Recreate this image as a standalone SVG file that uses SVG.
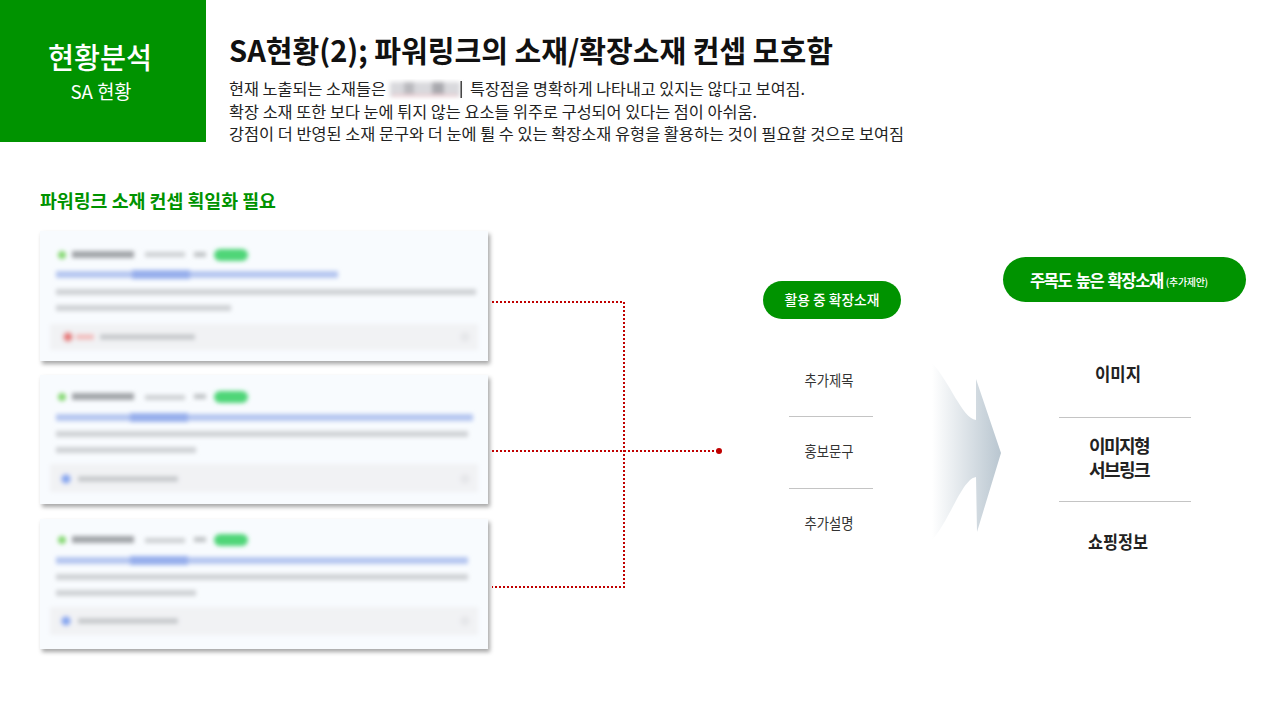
<svg xmlns="http://www.w3.org/2000/svg" width="1280" height="720" viewBox="0 0 1280 720">
<style>
  .kr { font-family: "Noto Sans CJK KR", "Noto Sans", sans-serif; }
  .title { font-size: 30px; font-weight: 700; fill: #111; }
  .body { font-size: 15.5px; font-weight: 400; fill: #222; }
  .sub { font-size: 18px; font-weight: 700; fill: #009300; }
  .pilltxt { fill: #fff; }
  .lst { font-size: 15px; fill: #333; text-anchor: middle; }
  .rlst { font-size: 18px; font-weight: 700; fill: #222; text-anchor: middle; }
  .sep { stroke: #c4c4c4; stroke-width: 1; }
  .conn { fill: none; stroke: #c00000; stroke-width: 2; stroke-dasharray: 2 2; }
  .card { fill: #f8fbfe; }
</style>
<defs>
  <filter id="shadow" x="-5%" y="-10%" width="115%" height="125%">
    <feDropShadow dx="2" dy="3" stdDeviation="2" flood-color="#000" flood-opacity="0.35"/>
  </filter>
  <filter id="blur" x="-5%" y="-20%" width="110%" height="140%">
    <feGaussianBlur stdDeviation="2"/>
  </filter>
  <linearGradient id="arrowGrad" x1="0" y1="0" x2="1" y2="0">
    <stop offset="0" stop-color="#ffffff"/>
    <stop offset="1" stop-color="#b9c6d0"/>
  </linearGradient>
</defs>
<rect width="1280" height="720" fill="#fff"/>

<g id="header-box">
  <rect x="0" y="0" width="206" height="142" fill="#009300"/>
  <text class="kr" x="100" y="69" font-size="29" font-weight="500" fill="#fff" text-anchor="middle" textLength="104" lengthAdjust="spacingAndGlyphs">현황분석</text>
  <text class="kr" x="101" y="99" font-size="19" font-weight="400" fill="#fff" text-anchor="middle" textLength="61" lengthAdjust="spacingAndGlyphs">SA 현황</text>
</g>

<g id="title">
  <text class="kr title" x="229" y="62" textLength="604" lengthAdjust="spacingAndGlyphs">SA현황(2); 파워링크의 소재/확장소재  컨셉 모호함</text>
  <text class="kr body" x="229" y="95" textLength="157" lengthAdjust="spacingAndGlyphs">현재 노출되는 소재들은</text>
  <g filter="url(#blur)">
    <rect x="390" y="82" width="70" height="15" fill="#d9d9dd"/>
    <rect x="404" y="82" width="10" height="15" fill="#b9b9be"/>
    <rect x="432" y="82" width="12" height="15" fill="#a9a9ae"/>
    <rect x="392" y="94" width="66" height="3" fill="#e8cfd4"/>
  </g>
  <rect x="460.5" y="81" width="1.4" height="17" fill="#333"/>
  <text class="kr body" x="470" y="95" textLength="335" lengthAdjust="spacingAndGlyphs">특장점을 명확하게 나타내고 있지는 않다고 보여짐.</text>
  <text class="kr body" x="229" y="117.5" textLength="528" lengthAdjust="spacingAndGlyphs">확장 소재 또한 보다 눈에 튀지 않는 요소들 위주로 구성되어 있다는 점이 아쉬움.</text>
  <text class="kr body" x="229" y="140" textLength="675" lengthAdjust="spacingAndGlyphs">강점이 더 반영된 소재 문구와 더 눈에 튈 수 있는 확장소재 유형을 활용하는 것이 필요할 것으로 보여짐</text>
</g>

<g id="subtitle">
  <text class="kr sub" x="40" y="208" textLength="236" lengthAdjust="spacingAndGlyphs">파워링크 소재 컨셉 획일화 필요</text>
</g>

<g id="card1">
  <rect class="card" x="40" y="231" width="448" height="130" filter="url(#shadow)"/>
  <g filter="url(#blur)">
    <circle cx="62" cy="255" r="4" fill="#86d873"/>
    <rect x="72" y="251" width="62" height="7" fill="#a2a5a9"/>
    <rect x="145" y="252" width="40" height="5" fill="#cdd0d3"/>
    <rect x="194" y="252" width="12" height="5" fill="#bfc2c5"/>
    <rect x="214" y="249" width="34" height="12" rx="6" fill="#4fd678"/>
    <rect x="56" y="271" width="282" height="7" fill="#b5c6f0"/>
    <rect x="132" y="270" width="58" height="9" fill="#97afec"/>
    <rect x="56" y="289" width="420" height="6" fill="#cfd2d5"/>
    <rect x="56" y="305" width="175" height="6" fill="#cfd2d5"/>
    <rect x="50" y="324" width="428" height="26" fill="#f1f2f4"/>
    <circle cx="68" cy="337" r="5" fill="#e78080"/>
    <rect x="76" y="334" width="18" height="6" fill="#f2c0c0"/>
    <rect x="100" y="334" width="95" height="6" fill="#c8cbce"/>
    <circle cx="465" cy="337" r="5" fill="#e6e7ea"/>
  </g>
</g>

<g id="card2">
  <rect class="card" x="40" y="375" width="448" height="129" filter="url(#shadow)"/>
  <g filter="url(#blur)">
    <circle cx="62" cy="397" r="4" fill="#86d873"/>
    <rect x="72" y="393" width="62" height="7" fill="#a2a5a9"/>
    <rect x="145" y="395" width="40" height="5" fill="#cdd0d3"/>
    <rect x="194" y="394" width="12" height="5" fill="#bfc2c5"/>
    <rect x="214" y="391" width="34" height="12" rx="6" fill="#4fd678"/>
    <rect x="56" y="414" width="417" height="7" fill="#b5c6f0"/>
    <rect x="130" y="413" width="58" height="9" fill="#97afec"/>
    <rect x="56" y="431" width="412" height="6" fill="#cfd2d5"/>
    <rect x="56" y="447" width="140" height="6" fill="#cfd2d5"/>
    <rect x="50" y="464" width="428" height="28" fill="#f1f2f4"/>
    <circle cx="66" cy="479" r="5" fill="#8aaaf0"/>
    <rect x="78" y="476" width="100" height="6" fill="#c8cbce"/>
    <circle cx="465" cy="479" r="5" fill="#e6e7ea"/>
  </g>
</g>

<g id="card3">
  <rect class="card" x="40" y="519" width="448" height="130" filter="url(#shadow)"/>
  <g filter="url(#blur)">
    <circle cx="62" cy="540" r="4" fill="#86d873"/>
    <rect x="72" y="536" width="62" height="7" fill="#a2a5a9"/>
    <rect x="145" y="538" width="40" height="5" fill="#cdd0d3"/>
    <rect x="194" y="537" width="12" height="5" fill="#bfc2c5"/>
    <rect x="214" y="534" width="34" height="12" rx="6" fill="#4fd678"/>
    <rect x="56" y="557" width="412" height="7" fill="#b5c6f0"/>
    <rect x="130" y="556" width="58" height="9" fill="#97afec"/>
    <rect x="56" y="574" width="412" height="6" fill="#cfd2d5"/>
    <rect x="56" y="590" width="140" height="6" fill="#cfd2d5"/>
    <rect x="50" y="607" width="428" height="28" fill="#f1f2f4"/>
    <circle cx="66" cy="621" r="5" fill="#8aaaf0"/>
    <rect x="78" y="618" width="100" height="6" fill="#c8cbce"/>
    <circle cx="465" cy="621" r="5" fill="#e6e7ea"/>
  </g>
</g>

<g id="connectors">
  <path class="conn" d="M492,302 H624 V587 H492"/>
  <path class="conn" d="M492,451 H718"/>
  <circle cx="719" cy="451" r="3" fill="#c00000"/>
</g>

<g id="current-ext">
  <rect x="763" y="281" width="138" height="38" rx="19" fill="#009300"/>
  <text class="kr pilltxt" x="832" y="305" font-size="14" font-weight="500" text-anchor="middle" textLength="95" lengthAdjust="spacingAndGlyphs">활용 중 확장소재</text>
  <text class="kr lst" x="829" y="386" textLength="49" lengthAdjust="spacingAndGlyphs">추가제목</text>
  <line class="sep" x1="789" y1="416.5" x2="873" y2="416.5"/>
  <text class="kr lst" x="829" y="457" textLength="49" lengthAdjust="spacingAndGlyphs">홍보문구</text>
  <line class="sep" x1="789" y1="488.5" x2="873" y2="488.5"/>
  <text class="kr lst" x="829" y="529" textLength="49" lengthAdjust="spacingAndGlyphs">추가설명</text>
</g>

<g id="arrow">
  <path d="M932,363 C950,382 962,418 976,420 L976,379 L1001,453 L977,532 L976,477 C962,479 950,520 932,540 Z" fill="url(#arrowGrad)"/>
</g>

<g id="proposed-ext">
  <rect x="1003" y="257" width="243" height="45" rx="22.5" fill="#009300"/>
  <text class="kr pilltxt" x="1030" y="287" font-size="16.5" font-weight="700" letter-spacing="-1.4" word-spacing="2">주목도 높은 확장소재<tspan font-size="10" font-weight="500" letter-spacing="-0.3" dx="3" dy="-1">(추가제안)</tspan></text>
  <text class="kr rlst" x="1118" y="381" textLength="46" lengthAdjust="spacingAndGlyphs">이미지</text>
  <line class="sep" x1="1059" y1="417.5" x2="1191" y2="417.5"/>
  <text class="kr rlst" font-size="16" letter-spacing="-1.5"><tspan x="1119" y="453">이미지형</tspan><tspan x="1119" y="476.5">서브링크</tspan></text>
  <line class="sep" x1="1059" y1="501.5" x2="1191" y2="501.5"/>
  <text class="kr rlst" x="1118" y="549" textLength="60" lengthAdjust="spacingAndGlyphs">쇼핑정보</text>
</g>
</svg>
